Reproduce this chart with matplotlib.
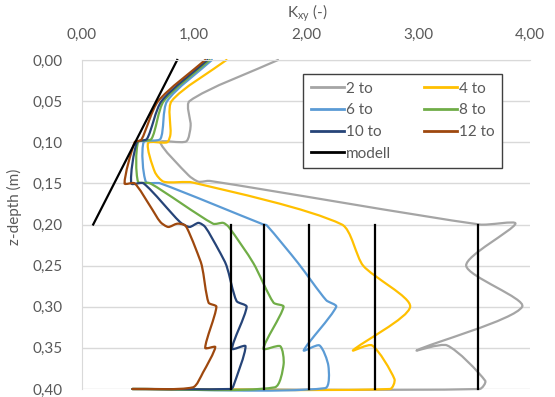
import numpy as np
import matplotlib
matplotlib.use("Agg")
import matplotlib.pyplot as plt
from matplotlib.path import Path
from matplotlib.patches import PathPatch
from matplotlib.lines import Line2D
from matplotlib.ticker import FuncFormatter, MultipleLocator

plt.rcParams['font.family'] = ['Lato', 'DejaVu Sans']
plt.rcParams['mathtext.default'] = 'regular'

# measured curves (K_xy, depth)
k_2to = [1.75, 0.96, 0.97, 0.93, 0.70, 0.95, 1.04, 1.14, 3.55, 3.87, 3.43, 3.93, 2.99, 3.26, 3.60, 3.55, 0.45]
z_2to = [0.00, 0.05, 0.08, 0.099, 0.10, 0.14, 0.148, 0.147, 0.20, 0.199, 0.25, 0.30, 0.353, 0.347, 0.39, 0.40, 0.40]

k_4to = [1.29, 0.80, 0.79, 0.76, 0.59, 0.65, 0.73, 0.99, 2.32, 2.51, 2.93, 2.42, 2.59, 2.79, 2.75, 0.45]
z_4to = [0.00, 0.05, 0.09, 0.100, 0.101, 0.136, 0.148, 0.149, 0.20, 0.25, 0.30, 0.353, 0.347, 0.388, 0.40, 0.40]

k_6to = [1.16, 0.76, 0.70, 0.55, 0.57, 0.70, 1.62, 1.65, 1.93, 2.18, 2.27, 1.98, 2.12, 2.20, 2.17, 0.45]
z_6to = [0.00, 0.05, 0.096, 0.10, 0.148, 0.15, 0.20, 0.201, 0.247, 0.292, 0.30, 0.353, 0.347, 0.372, 0.399, 0.40]

k_8to = [1.14, 0.73, 0.62, 0.50, 0.50, 0.61, 1.17, 1.26, 1.31, 1.53, 1.71, 1.80, 1.62, 1.77, 1.80, 1.72, 0.45]
z_8to = [0.00, 0.05, 0.096, 0.10, 0.148, 0.15, 0.199, 0.198, 0.203, 0.247, 0.295, 0.30, 0.351, 0.348, 0.37, 0.398, 0.40]

k_10to = [1.12, 0.71, 0.58, 0.49, 0.44, 0.55, 0.875, 0.96, 1.04, 1.10, 1.22, 1.29, 1.38, 1.47, 1.34, 1.46, 1.35, 1.33, 0.45]
z_10to = [0.00, 0.05, 0.096, 0.10, 0.15, 0.15, 0.197, 0.203, 0.198, 0.203, 0.231, 0.25, 0.293, 0.30, 0.351, 0.348, 0.397, 0.40, 0.40]

k_12to = [1.10, 0.68, 0.53, 0.47, 0.38, 0.47, 0.61, 0.70, 0.77, 0.85, 0.92, 0.96, 1.02, 1.07, 1.13, 1.20, 1.10, 1.19, 1.08, 0.99, 0.45]
z_12to = [0.00, 0.05, 0.097, 0.10, 0.15, 0.15, 0.178, 0.197, 0.203, 0.199, 0.201, 0.211, 0.231, 0.25, 0.295, 0.30, 0.35, 0.349, 0.38, 0.398, 0.40]

# model
model_k = [0.85, 0.10]
model_z = [0.00, 0.20]
model_k_vert = [1.33, 1.625, 2.03, 2.62, 3.54]
model_z_vert = [0.20, 0.40]

series = [
    ('2 to', k_2to, z_2to, '#A5A5A5'),
    ('4 to', k_4to, z_4to, '#FFC000'),
    ('6 to', k_6to, z_6to, '#5B9BD5'),
    ('8 to', k_8to, z_8to, '#70AD47'),
    ('10 to', k_10to, z_10to, '#264478'),
    ('12 to', k_12to, z_12to, '#9E480E'),
]

# rough pixel size of one data unit, used so the smoothing follows screen distances
SX, SY = 112.0, 822.5
TENSION = 0.25


def smooth_path(xs, ys):
    # smoothed line like excel: bezier through every point, arms scaled by segment length
    p = np.column_stack([xs, ys]).astype(float)
    n = len(p)
    s = np.array([SX, SY])
    d = np.r_[np.hypot(*((np.diff(p, axis=0) * s).T)), 0.0]
    verts = [p[0]]
    codes = [Path.MOVETO]
    for i in range(n - 1):
        pm = p[i - 1] if i > 0 else p[i]
        pn = p[i + 2] if i + 2 < n else p[i + 1]
        dm = d[i - 1] if i > 0 else 0.0
        dn = d[i + 1] if i + 2 < n else 0.0
        w1 = d[i] / (dm + d[i]) if dm + d[i] > 0 else 0
        w2 = d[i] / (d[i] + dn) if dn + d[i] > 0 else 0
        c1 = p[i] + (p[i + 1] - pm) * w1 * TENSION
        c2 = p[i + 1] - (pn - p[i]) * w2 * TENSION
        verts += [c1, c2, p[i + 1]]
        codes += [Path.CURVE4] * 3
    return Path(verts, codes)


fig = plt.figure(figsize=(5.55, 3.97), dpi=100)
ax = fig.add_axes([82 / 555, 1 - 389 / 397, 448 / 555, 329 / 397])

handles = {}
for name, k, z, col in series:
    patch = PathPatch(smooth_path(k, z), fill=False, edgecolor=col, lw=1.6,
                      clip_on=False, capstyle='round', joinstyle='round')
    ax.add_patch(patch)
    handles[name] = Line2D([], [], color=col, lw=2)

ax.plot(model_k, model_z, color='black', lw=1.6, clip_on=False)
for kv in model_k_vert:
    ax.plot([kv, kv], model_z_vert, color='black', lw=1.6, clip_on=False)
handles['modell'] = Line2D([], [], color='black', lw=2)

ax.set_xlim(0, 4)
ax.set_ylim(0.40, 0.0)
ax.xaxis.set_major_locator(MultipleLocator(1))
ax.yaxis.set_major_locator(MultipleLocator(0.05))
fmt = FuncFormatter(lambda v, pos: f"{v:.2f}".replace('.', ','))
ax.xaxis.set_major_formatter(fmt)
ax.yaxis.set_major_formatter(fmt)
ax.xaxis.tick_top()
ax.xaxis.set_label_position('top')
ax.tick_params(axis='both', length=0, labelsize=11, colors='#595959')
ax.tick_params(axis='x', pad=13)
ax.tick_params(axis='y', pad=14)
ax.yaxis.grid(True, color='#D9D9D9', lw=1)
ax.set_axisbelow(True)
for s in ['right', 'bottom']:
    ax.spines[s].set_visible(False)
for s in ['left', 'top']:
    ax.spines[s].set_color('#D9D9D9')

ax.set_xlabel('K$_{xy}$ (-)', fontsize=11, color='#595959')
ax.xaxis.set_label_coords(0.502, 1.13)
ax.set_ylabel('z-depth (m)', fontsize=11, color='#595959')
ax.yaxis.set_label_coords(-0.135, 0.553)

order = ['2 to', '6 to', '10 to', 'modell', '4 to', '8 to', '12 to']
leg = ax.legend([handles[o] for o in order], order, ncol=2, loc='upper left',
                bbox_to_anchor=(0.493, 0.675, 0.4445, 0.282), mode='expand',
                borderaxespad=0, fancybox=False, fontsize=11, handlelength=2.2,
                handletextpad=0.1, labelspacing=0.5, borderpad=0.5,
                framealpha=1, edgecolor='#404040')
leg.get_frame().set_linewidth(1)
for t in leg.get_texts():
    t.set_color('#595959')

fig.savefig('out.png', dpi=100)
